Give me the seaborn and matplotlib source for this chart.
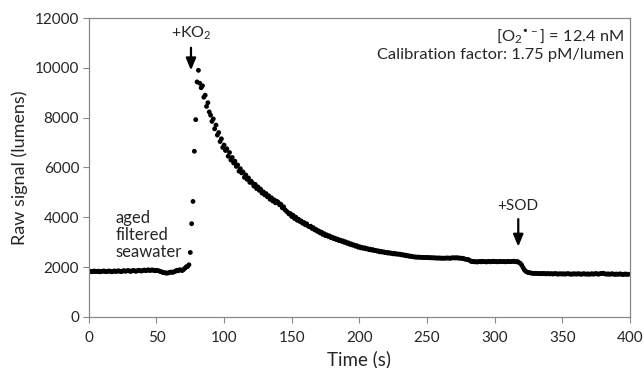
import numpy as np
import pandas as pd
import matplotlib
matplotlib.use("Agg")
import matplotlib.pyplot as plt
import seaborn as sns

# raw luminescence signal, one reading per second
time_s = list(range(0, 400))
signal = [
    1820, 1830, 1810, 1825, 1840, 1815, 1820, 1835, 1810, 1825,
    1830, 1845, 1820, 1815, 1835, 1840, 1825, 1810, 1830, 1845,
    1820, 1835, 1850, 1830, 1815, 1840, 1855, 1830, 1845, 1860,
    1840, 1825, 1850, 1865, 1845, 1830, 1855, 1870, 1850, 1840,
    1865, 1880, 1855, 1870, 1890, 1860, 1875, 1885, 1865, 1850,
    1870, 1855, 1840, 1820, 1800, 1780, 1770, 1760, 1755, 1770,
    1790, 1800, 1785, 1810, 1830, 1870, 1850, 1890, 1880, 1860,
    1900, 1950, 2010, 2020, 2090, 2585, 3740, 4635, 6650, 7920,
    9435, 9900, 9380, 9200, 9280, 8820, 8900, 8450, 8600, 8230,
    8100, 7850, 7950, 7550, 7700, 7300, 7400, 7040, 7150, 6800,
    6900, 6680, 6750, 6450, 6600, 6300, 6400, 6180, 6250, 6040,
    6100, 5850, 5950, 5780, 5820, 5600, 5700, 5520, 5580, 5400,
    5450, 5370, 5250, 5320, 5150, 5220, 5080, 5130, 4970, 5020,
    4900, 4950, 4820, 4860, 4720, 4780, 4650, 4700, 4580, 4640,
    4600, 4500, 4520, 4380, 4420, 4300, 4250, 4200, 4130, 4150,
    4030, 4080, 3950, 4000, 3880, 3920, 3830, 3850, 3760, 3790,
    3700, 3740, 3650, 3620, 3640, 3550, 3580, 3490, 3510, 3430,
    3450, 3370, 3400, 3310, 3340, 3260, 3290, 3230, 3250, 3180,
    3200, 3140, 3160, 3100, 3120, 3060, 3080, 3030, 3050, 2990,
    3010, 2950, 2970, 2910, 2930, 2880, 2890, 2840, 2860, 2800,
    2820, 2770, 2790, 2750, 2770, 2730, 2740, 2700, 2720, 2680,
    2700, 2660, 2670, 2640, 2650, 2610, 2630, 2600, 2610, 2580,
    2590, 2560, 2580, 2550, 2560, 2530, 2550, 2520, 2530, 2510,
    2520, 2490, 2500, 2470, 2480, 2450, 2460, 2430, 2440, 2420,
    2410, 2405, 2400, 2395, 2400, 2390, 2385, 2390, 2380, 2385,
    2385, 2375, 2380, 2370, 2375, 2365, 2370, 2360, 2360, 2365,
    2355, 2360, 2350, 2360, 2355, 2365, 2360, 2350, 2365, 2370,
    2370, 2365, 2375, 2360, 2365, 2350, 2355, 2340, 2320, 2310,
    2300, 2290, 2250, 2220, 2230, 2210, 2220, 2200, 2215, 2225,
    2210, 2230, 2220, 2215, 2205, 2225, 2230, 2210, 2220, 2235,
    2215, 2225, 2210, 2220, 2230, 2215, 2220, 2225, 2210, 2215,
    2230, 2220, 2215, 2225, 2235, 2220, 2210, 2220, 2180, 2150,
    2080, 1980, 1890, 1830, 1800, 1780, 1770, 1760, 1750, 1745,
    1750, 1740, 1745, 1735, 1740, 1730, 1745, 1735, 1725, 1740,
    1730, 1725, 1735, 1720, 1730, 1740, 1725, 1715, 1730, 1725,
    1720, 1730, 1715, 1725, 1735, 1725, 1720, 1710, 1730, 1720,
    1725, 1715, 1735, 1720, 1710, 1725, 1730, 1720, 1715, 1725,
    1710, 1720, 1730, 1715, 1725, 1740, 1720, 1715, 1730, 1745,
    1750, 1735, 1720, 1715, 1725, 1710, 1720, 1730, 1715, 1705,
    1720, 1710, 1715, 1725, 1710, 1700, 1715, 1720, 1705, 1710,
]

x_ticks = [0, 50, 100, 150, 200, 250, 300, 350, 400]
y_ticks = [0, 2000, 4000, 6000, 8000, 10000, 12000]

ko2_time, ko2_signal = 75.5, 9900    # where KO2 was added (arrow tip)
sod_time, sod_signal = 317.5, 2820   # where SOD was added (arrow tip)

df = pd.DataFrame({'time': time_s, 'signal': signal})

sns.set_style('white')
plt.rcParams['font.family'] = ['Lato', 'DejaVu Sans']
plt.rcParams['mathtext.default'] = 'regular'

fig = plt.figure(figsize=(6.44, 3.68), dpi=100)
ax = fig.add_axes([0.138, 0.139, 0.840, 0.812])

sns.scatterplot(data=df, x='time', y='signal', ax=ax, color='black',
                s=12, edgecolor='none', linewidth=0, legend=False)

ax.set_xlim(0, 400)
ax.set_ylim(0, 12000)
ax.set_xticks(x_ticks)
ax.set_yticks(y_ticks)
ax.tick_params(labelsize=11, length=4, direction='out', color='#888888',
               left=True, bottom=True)
ax.tick_params(axis='x', pad=6)
ax.tick_params(axis='y', pad=3)
ax.set_xlabel('Time (s)', fontsize=13.5, labelpad=4)
ax.set_ylabel('Raw signal (lumens)', fontsize=13, labelpad=5)
for sp in ax.spines.values():
    sp.set_color('#888888')
    sp.set_linewidth(0.9)

# annotations
arrow = dict(arrowstyle='-|>,head_width=0.25,head_length=0.6', color='black',
             lw=1.6, mutation_scale=12, shrinkA=2, shrinkB=0)
ax.annotate('+KO$_2$', xy=(ko2_time, ko2_signal), xytext=(ko2_time, 11400),
            ha='center', va='center', fontsize=11.5, arrowprops=arrow)
ax.annotate('+SOD', xy=(sod_time, sod_signal), xytext=(sod_time, 4450),
            ha='center', va='center', fontsize=11, arrowprops=arrow)
ax.text(20, 2300, 'aged\nfiltered\nseawater', fontsize=12, ha='left',
        va='bottom', linespacing=1.05)
ax.text(395.5, 11280, '[O$_2$$^{•-}$] = 12.4 nM', fontsize=11.8,
        ha='right', va='center')
ax.text(395.5, 10535, 'Calibration factor: 1.75 pM/lumen', fontsize=11.8,
        ha='right', va='center')

fig.savefig('out.png', dpi=100)
